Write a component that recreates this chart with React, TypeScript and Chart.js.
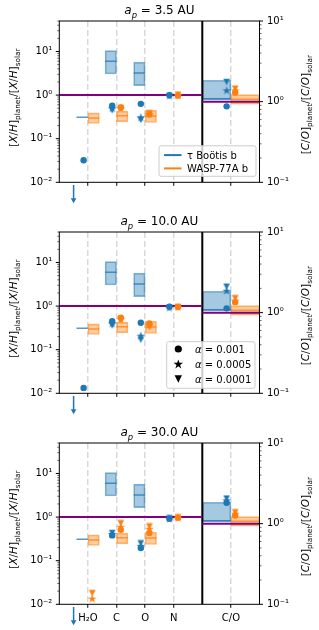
import React, { useEffect, useRef } from 'react';
import { Chart, registerables } from 'chart.js';
Chart.register(...registerables);

// ---------- data ----------
const categories = ['H₂O', 'C', 'O', 'N', 'C/O'];
const categoryX = [1, 2, 3, 4, 6];
const separatorX = 5;
const distances = ['3.5', '10.0', '30.0'];
const planetNames = ['τ Boötis b', 'WASP-77A b'];
const alphaValues = ['0.001', '0.0005', '0.0001'];
const solarLevel = 1;

// model predictions: rows = alpha 0.001, 0.0005, 0.0001; columns = H2O, C, O, N, C/O
const tauBoo_3_5AU = [
  [0.032, 0.57, 0.63, 1.0, 0.875],
  [null, 0.5, 0.31, 0.97, 1.38],
  [null, 0.45, 0.27, 0.95, 1.75],
];
const wasp77_3_5AU = [
  [null, 0.52, 0.36, 0.97, 1.3],
  [null, 0.5, 0.37, 1.0, 1.38],
  [null, 0.5, 0.38, 1.02, 1.45],
];
const tauBoo_10AU = [
  [0.0133, 0.45, 0.415, 0.97, 1.13],
  [null, 0.4, 0.21, 0.93, 1.87],
  [null, 0.36, 0.17, 0.92, 2.1],
];
const wasp77_10AU = [
  [null, 0.54, 0.4, 0.95, 1.35],
  [null, 0.5, 0.37, 0.95, 1.41],
  [null, 0.48, 0.33, 0.96, 1.51],
];
const tauBoo_30AU = [
  [null, 0.38, 0.195, 0.92, 1.82],
  [null, 0.41, 0.22, 0.93, 1.95],
  [null, 0.43, 0.25, 0.94, 2.05],
];
const wasp77_30AU = [
  [null, 0.51, 0.43, 0.97, 1.26],
  [0.0135, 0.6, 0.54, 0.97, 1.33],
  [0.018, 0.72, 0.61, 0.98, 1.38],
];

// observed retrievals: columns = H2O, C, O, N, C/O
const tauObsCenter = [0.31, 6.0, 3.2, null, 1.09];
const tauObsLow = [null, 3.05, 1.65, null, 1.06];
const tauObsHigh = [null, 10.5, 5.7, null, 1.84];
const waspObsCenter = [0.30, 0.334, 0.33, null, 1.07];
const waspObsLow = [0.223, 0.243, 0.235, null, 0.93];
const waspObsHigh = [0.39, 0.43, 0.45, null, 1.22];
const tauH2OLimitArrow = [0.0087, 0.0041];
const tauH2OLimitX = 0.5;

const tauModels = [tauBoo_3_5AU, tauBoo_10AU, tauBoo_30AU];
const waspModels = [wasp77_3_5AU, wasp77_10AU, wasp77_30AU];

// ---------- style / layout ----------
const BLUE = '#1f77b4';
const ORANGE = '#ff7f0e';
const PURPLE = '#800080';
const FONT = "'DejaVu Sans', sans-serif";
const CANVAS_W = 319;
const CANVAS_H = 211;
const LEFT_W = 59.3;
const RIGHT_W = 59.5;
const PAD_TOP = 21;
const XAX_H = 28.7;
const X_MIN = 0;
const X_MAX = 7;
const UNIT_PX = (CANVAS_W - LEFT_W - RIGHT_W) / (X_MAX - X_MIN);

Chart.defaults.font.family = FONT;
Chart.defaults.color = '#000';

type Seg = { t: string; it?: boolean; sub?: boolean };

function drawRich(ctx: CanvasRenderingContext2D, segs: Seg[], x: number, y: number, size: number, rot = 0, align: 'center' | 'left' = 'center') {
  ctx.save();
  ctx.translate(x, y);
  ctx.rotate(rot);
  const fontOf = (s: Seg) => `${s.it ? 'italic ' : ''}${s.sub ? size * 0.7 : size}px ${FONT}`;
  const widths = segs.map((s) => {
    ctx.font = fontOf(s);
    return ctx.measureText(s.t).width;
  });
  const total = widths.reduce((a, b) => a + b, 0);
  let cx = align === 'center' ? -total / 2 : 0;
  ctx.textAlign = 'left';
  ctx.textBaseline = 'alphabetic';
  ctx.fillStyle = '#000';
  segs.forEach((s, i) => {
    ctx.font = fontOf(s);
    ctx.fillText(s.t, cx, size * 0.36 + (s.sub ? size * 0.28 : 0));
    cx += widths[i];
  });
  ctx.restore();
}

function starPath(ctx: CanvasRenderingContext2D, cx: number, cy: number, R: number) {
  const r = R * 0.382;
  ctx.beginPath();
  for (let i = 0; i < 10; i++) {
    const rad = i % 2 === 0 ? R : r;
    const a = -Math.PI / 2 + (i * Math.PI) / 5;
    const px = cx + rad * Math.cos(a);
    const py = cy + rad * Math.sin(a);
    if (i === 0) ctx.moveTo(px, py);
    else ctx.lineTo(px, py);
  }
  ctx.closePath();
}

function triPath(ctx: CanvasRenderingContext2D, cx: number, cy: number, h: number) {
  ctx.beginPath();
  ctx.moveTo(cx, cy + h / 2);
  ctx.lineTo(cx - h / 2, cy - h / 2);
  ctx.lineTo(cx + h / 2, cy - h / 2);
  ctx.closePath();
}

function makeStar(color: string) {
  const c = document.createElement('canvas');
  c.width = 10;
  c.height = 10;
  const ctx = c.getContext('2d')!;
  ctx.fillStyle = color;
  starPath(ctx, 5, 5.3, 4.6);
  ctx.fill();
  return c;
}
function makeTri(color: string, h = 6.6, size = 8) {
  const c = document.createElement('canvas');
  c.width = size;
  c.height = size;
  const ctx = c.getContext('2d')!;
  ctx.fillStyle = color;
  triPath(ctx, size / 2, size / 2, h);
  ctx.fill();
  return c;
}

const SUP: Record<string, string> = { '-': '⁻', '0': '⁰', '1': '¹', '2': '²', '3': '³' };
function logLabel(v: number) {
  const e = Math.log10(v);
  if (Math.abs(e - Math.round(e)) > 1e-6) return '';
  return '10' + String(Math.round(e)).split('').map((c) => SUP[c]).join('');
}
function logTicks(min: number, max: number) {
  const out: { value: number; major: boolean }[] = [];
  for (let e = Math.floor(Math.log10(min)); e <= Math.ceil(Math.log10(max)); e++) {
    for (let k = 1; k < 10; k++) {
      const v = +(k * Math.pow(10, e)).toPrecision(6);
      if (v >= min * 0.999 && v <= max * 1.001) out.push({ value: v, major: k === 1 });
    }
  }
  return out;
}

function makePlugin(panel: number) {
  return {
    id: 'decor' + panel,
    afterDatasetsDraw(chart: any) {
      const { ctx, chartArea: a, scales } = chart;
      ctx.save();
      ctx.strokeStyle = '#000';
      ctx.lineWidth = 1;
      ctx.strokeRect(a.left, a.top, a.right - a.left, a.bottom - a.top);
      const drawTicks = (scale: any, side: number) => {
        const x0 = side < 0 ? a.left : a.right;
        scale.ticks.forEach((t: any) => {
          const py = scale.getPixelForValue(t.value);
          if (py < a.top - 0.5 || py > a.bottom + 0.5) return;
          const len = t.major ? 3.5 : 2;
          ctx.lineWidth = t.major ? 1 : 0.6;
          ctx.beginPath();
          ctx.moveTo(x0, py);
          ctx.lineTo(x0 + side * len, py);
          ctx.stroke();
        });
      };
      drawTicks(scales.y, -1);
      drawTicks(scales.y2, 1);
      // arrow head of the tau Boo H2O upper limit
      const hx = scales.x.getPixelForValue(tauH2OLimitX);
      const hy = scales.y.getPixelForValue(tauH2OLimitArrow[1]);
      ctx.fillStyle = BLUE;
      ctx.beginPath();
      ctx.moveTo(hx - 2.8, hy - 1);
      ctx.lineTo(hx + 2.8, hy - 1);
      ctx.lineTo(hx, hy + 4);
      ctx.closePath();
      ctx.fill();
      ctx.restore();
    },
    afterDraw(chart: any) {
      const { ctx, chartArea: a } = chart;
      const midY = (a.top + a.bottom) / 2;
      drawRich(ctx, [{ t: 'a', it: true }, { t: 'p', it: true, sub: true }, { t: ' = ' + distances[panel] + ' AU' }], (a.left + a.right) / 2, a.top - 11, 12);
      drawRich(
        ctx,
        [
          { t: '[' }, { t: 'X', it: true }, { t: '/' }, { t: 'H', it: true }, { t: ']' }, { t: 'planet', sub: true },
          { t: '/[' }, { t: 'X', it: true }, { t: '/' }, { t: 'H', it: true }, { t: ']' }, { t: 'solar', sub: true },
        ],
        13.5, midY - 4, 10.5, -Math.PI / 2
      );
      drawRich(
        ctx,
        [
          { t: '[' }, { t: 'C', it: true }, { t: '/' }, { t: 'O', it: true }, { t: ']' }, { t: 'planet', sub: true },
          { t: '/[' }, { t: 'C', it: true }, { t: '/' }, { t: 'O', it: true }, { t: ']' }, { t: 'solar', sub: true },
        ],
        305.5, midY + 3, 10.5, -Math.PI / 2
      );
      ctx.save();
      if (panel === 0) {
        const bw = 97, bh = 30.5;
        const bx = a.right - 3.5 - bw, by = a.bottom - 6 - bh;
        ctx.beginPath();
        ctx.roundRect(bx, by, bw, bh, 2);
        ctx.fillStyle = 'rgba(255,255,255,0.8)';
        ctx.fill();
        ctx.strokeStyle = '#cccccc';
        ctx.lineWidth = 1;
        ctx.stroke();
        planetNames.forEach((name, i) => {
          const cy = by + 9.3 + i * 13.3;
          ctx.strokeStyle = i === 0 ? BLUE : ORANGE;
          ctx.lineWidth = 2;
          ctx.beginPath();
          ctx.moveTo(bx + 5, cy);
          ctx.lineTo(bx + 22.5, cy);
          ctx.stroke();
          drawRich(ctx, [{ t: name }], bx + 28, cy, 10, 0, 'left');
        });
      } else if (panel === 1) {
        const bw = 88.3, bh = 46.6;
        const bx = a.right - 4.5 - bw, by = a.bottom - 5 - bh;
        ctx.beginPath();
        ctx.roundRect(bx, by, bw, bh, 2);
        ctx.fillStyle = 'rgba(255,255,255,0.8)';
        ctx.fill();
        ctx.strokeStyle = '#cccccc';
        ctx.lineWidth = 1;
        ctx.stroke();
        alphaValues.forEach((v, i) => {
          const cy = by + 7.3 + i * 15;
          const mx = bx + 11.6;
          ctx.fillStyle = '#000';
          if (i === 0) {
            ctx.beginPath();
            ctx.arc(mx, cy, 3.6, 0, Math.PI * 2);
            ctx.fill();
          } else if (i === 1) {
            starPath(ctx, mx, cy + 0.4, 5);
            ctx.fill();
          } else {
            triPath(ctx, mx, cy, 7.4);
            ctx.fill();
          }
          drawRich(ctx, [{ t: 'α', it: true }, { t: ' = ' + v }], bx + 28.3, cy, 10, 0, 'left');
        });
      }
      ctx.restore();
    },
  };
}

function makeConfig(panel: number): any {
  const datasets: any[] = [];
  const stars = [makeStar(BLUE), makeStar(ORANGE)];
  const tris = [makeTri(BLUE), makeTri(ORANGE)];
  const planets: [(number | null)[][], string, number][] = [
    [tauModels[panel], BLUE, -0.15],
    [waspModels[panel], ORANGE, 0.15],
  ];
  planets.forEach(([rows, color, off], pi) => {
    rows.forEach((row, ai) => {
      const style = ai === 0 ? 'circle' : ai === 1 ? stars[pi] : tris[pi];
      const common = {
        type: 'scatter',
        showLine: false,
        pointStyle: style,
        pointRadius: 3.2,
        pointBackgroundColor: color,
        pointBorderColor: color,
        pointBorderWidth: 0,
        order: ai * 0.1,
      };
      const left = row
        .slice(0, 4)
        .map((v, i) => (v == null ? null : { x: categoryX[i] + off, y: v }))
        .filter((p) => p !== null);
      datasets.push({ ...common, yAxisID: 'y', data: left });
      if (row[4] != null) datasets.push({ ...common, yAxisID: 'y2', data: [{ x: categoryX[4] + off, y: row[4] }] });
    });
  });
  datasets.push({ type: 'scatter', showLine: true, yAxisID: 'y', data: [{ x: X_MIN, y: solarLevel }, { x: separatorX, y: solarLevel }], borderColor: PURPLE, borderWidth: 2, pointRadius: 0, order: 1 });
  datasets.push({ type: 'scatter', showLine: true, yAxisID: 'y2', data: [{ x: separatorX, y: solarLevel }, { x: X_MAX, y: solarLevel }], borderColor: PURPLE, borderWidth: 2, pointRadius: 0, order: 1 });
  datasets.push({ type: 'scatter', showLine: true, yAxisID: 'y', data: [{ x: separatorX, y: 0.01 }, { x: separatorX, y: 50 }], borderColor: '#000', borderWidth: 2, pointRadius: 0, order: 2 });
  const obs: [(number | null)[], (number | null)[], (number | null)[], number, string, string, string][] = [
    [tauObsLow, tauObsHigh, tauObsCenter, -1, 'rgba(31,119,180,0.4)', 'rgba(31,119,180,0.55)', 'rgba(31,119,180,0.75)'],
    [waspObsLow, waspObsHigh, waspObsCenter, 1, 'rgba(255,127,14,0.4)', 'rgba(255,127,14,0.55)', 'rgba(255,127,14,0.75)'],
  ];
  obs.forEach(([lo, hi, mid, side, fill, edge, lineCol]) => {
    categoryX.forEach((cx, i) => {
      const w = i === 4 ? 1.0 : 0.4;
      const axis = i === 4 ? 'y2' : 'y';
      const x0 = side < 0 ? cx - w : cx;
      if (lo[i] != null && hi[i] != null) {
        datasets.push({
          type: 'bar',
          yAxisID: axis,
          data: [{ x: x0 + w / 2, y: [lo[i], hi[i]] }],
          barThickness: w * UNIT_PX,
          grouped: false,
          backgroundColor: fill,
          borderColor: edge,
          borderWidth: 1,
          borderSkipped: false,
          order: 5,
        });
      }
      if (mid[i] != null) {
        datasets.push({
          type: 'scatter',
          showLine: true,
          yAxisID: axis,
          data: [{ x: x0, y: mid[i] }, { x: x0 + w, y: mid[i] }],
          borderColor: lineCol,
          borderWidth: 1.5,
          pointRadius: 0,
          order: 4,
        });
      }
    });
  });
  // upper-limit arrow shaft for tau Boo H2O
  datasets.push({
    type: 'scatter',
    showLine: true,
    clip: false,
    yAxisID: 'y',
    data: [{ x: tauH2OLimitX, y: tauH2OLimitArrow[0] }, { x: tauH2OLimitX, y: tauH2OLimitArrow[1] }],
    borderColor: BLUE,
    borderWidth: 1.5,
    pointRadius: 0,
    order: 3,
  });

  const showX = panel === 2;
  return {
    type: 'scatter',
    data: { datasets },
    options: {
      animation: false,
      responsive: false,
      devicePixelRatio: 1,
      events: [],
      layout: { padding: { top: PAD_TOP, left: 0, right: 0, bottom: 0 } },
      plugins: { legend: { display: false }, tooltip: { enabled: false }, title: { display: false } },
      scales: {
        x: {
          type: 'linear',
          min: X_MIN,
          max: X_MAX,
          offset: false,
          stacked: false,
          afterFit: (s: any) => { s.height = XAX_H; },
          afterBuildTicks: (s: any) => { s.ticks = categoryX.map((v) => ({ value: v })); },
          ticks: {
            autoSkip: false,
            maxRotation: 0,
            padding: 4.5,
            color: '#000',
            font: { size: 10, family: FONT },
            callback: (v: number) => (showX ? categories[categoryX.indexOf(v)] : ''),
          },
          grid: { offset: false, color: '#d9d9d9', lineWidth: 1.5, tickColor: '#000', tickLength: 3.5, tickWidth: 1, drawOnChartArea: true },
          border: { display: false, dash: [6, 3] },
        },
        y: {
          type: 'logarithmic',
          position: 'left',
          min: 0.01,
          max: 50,
          stacked: false,
          afterFit: (s: any) => { s.width = LEFT_W; },
          afterBuildTicks: (s: any) => { s.ticks = logTicks(0.01, 50); },
          ticks: { autoSkip: false, padding: 7, color: '#000', font: { size: 10, family: FONT }, callback: (v: number) => logLabel(v) },
          grid: { display: false, drawTicks: false },
          border: { display: false },
        },
        y2: {
          type: 'logarithmic',
          position: 'right',
          min: 0.1,
          max: 10,
          stacked: false,
          afterFit: (s: any) => { s.width = RIGHT_W; },
          afterBuildTicks: (s: any) => { s.ticks = logTicks(0.1, 10); },
          ticks: { autoSkip: false, padding: 7.5, color: '#000', font: { size: 10, family: FONT }, callback: (v: number) => logLabel(v) },
          grid: { display: false, drawTicks: false },
          border: { display: false },
        },
      },
    },
    plugins: [makePlugin(panel)],
  };
}

export default function App() {
  const r0 = useRef<HTMLCanvasElement>(null);
  const r1 = useRef<HTMLCanvasElement>(null);
  const r2 = useRef<HTMLCanvasElement>(null);
  const refs = [r0, r1, r2];
  useEffect(() => {
    const charts = refs.map((r, p) => new Chart(r.current as HTMLCanvasElement, makeConfig(p)));
    return () => charts.forEach((c) => c.destroy());
  }, []);
  return (
    <div style={{ position: 'absolute', left: 0, top: 0, width: CANVAS_W, height: 630, overflow: 'hidden', background: '#fff' }}>
      {refs.map((r, p) => (
        <canvas
          key={p}
          ref={r}
          width={CANVAS_W}
          height={CANVAS_H}
          style={{ position: 'absolute', left: 0, top: p * CANVAS_H, width: CANVAS_W, height: CANVAS_H, display: 'block' }}
        />
      ))}
    </div>
  );
}
